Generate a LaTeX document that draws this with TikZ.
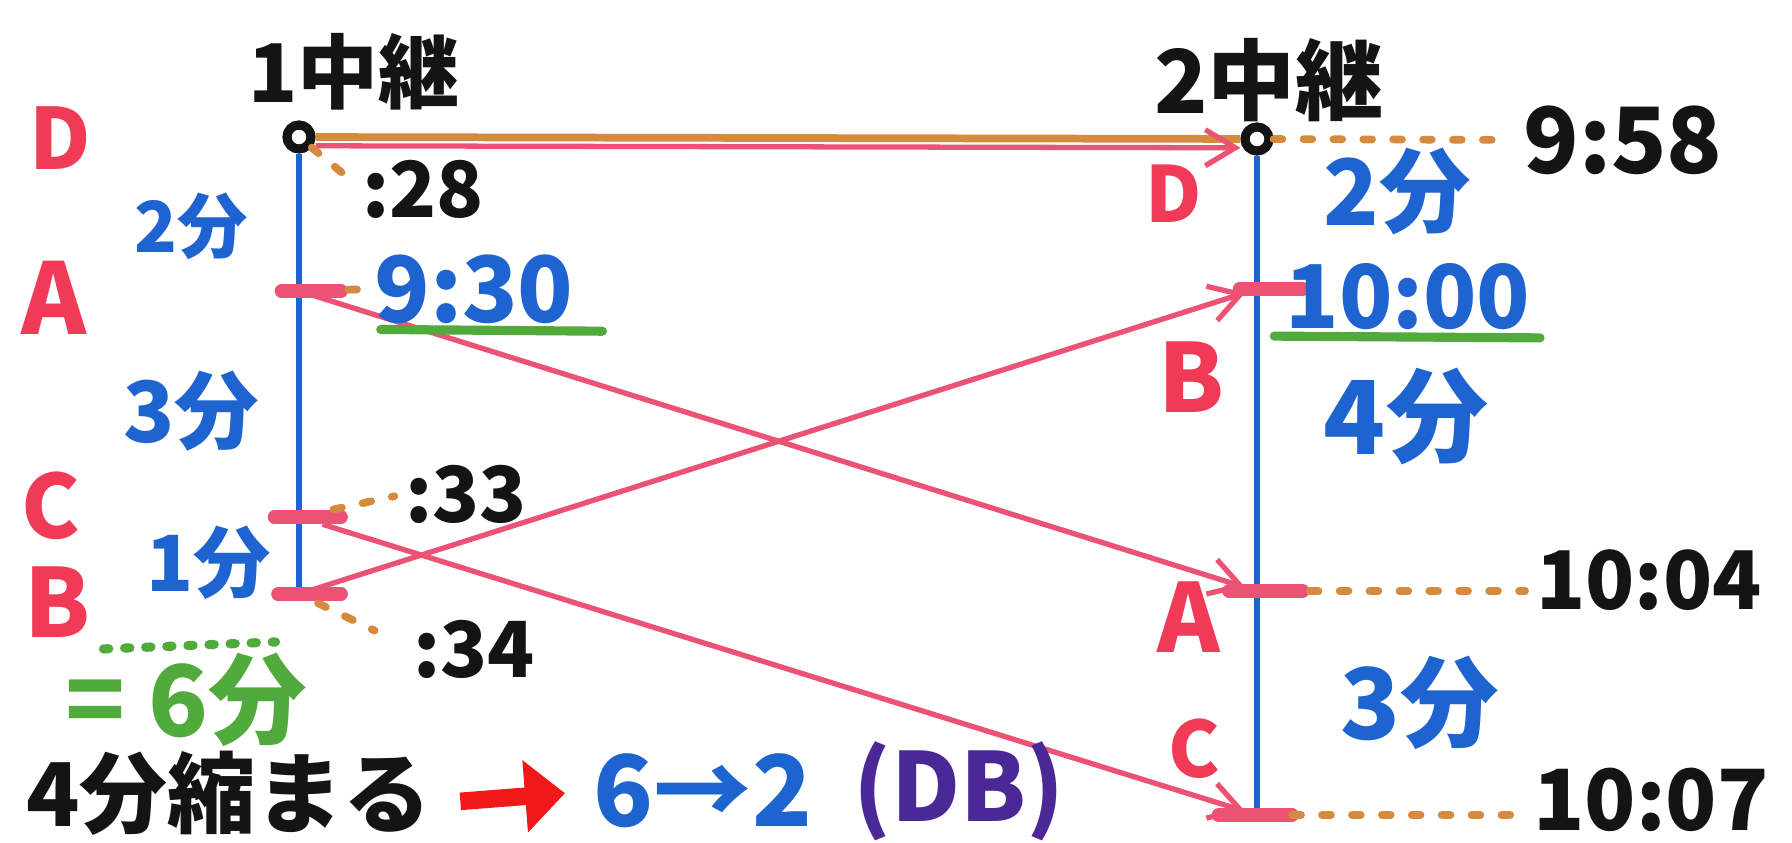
\documentclass[tikz,border=0pt]{standalone}
\usepackage{fontspec}
\setmainfont{Noto Sans CJK JP}
\usetikzlibrary{arrows.meta,positioning}

\definecolor{penpink}{RGB}{236,82,116}
\definecolor{penred}{RGB}{240,58,86}
\definecolor{penblue}{RGB}{30,100,208}
\definecolor{penorange}{RGB}{214,138,62}
\definecolor{pengreen}{RGB}{80,170,60}
\definecolor{penpurple}{RGB}{74,40,150}
\definecolor{penarrow}{RGB}{240,24,24}
\definecolor{penblack}{RGB}{20,20,20}

\begin{document}
\begin{tikzpicture}[
    x=0.01cm, y=-0.01cm,
    stn/.style={circle, draw=penblack, line width=2.6pt, inner sep=0pt, minimum size=0.24cm},
    track/.style={penblue, line width=1.8pt},
    run/.style={penorange, line width=2.2pt},
    pass/.style={penpink, line width=1.5pt, -{Straight Barb[length=3mm,width=3.6mm,line width=1.5pt]}},
    stamp/.style={penpink, line width=3.8pt, line cap=round},
    dotrun/.style={penorange, line width=2.2pt, line cap=round, dash pattern=on 2.5pt off 6pt},
    under/.style={pengreen, line width=2.6pt, line cap=round},
    runner/.style={text=penred, inner sep=0pt, font=\bfseries\fontsize{#1}{#1}\selectfont},
    dur/.style={text=penblue, inner sep=0pt, font=\bfseries\fontsize{#1}{#1}\selectfont},
    clock/.style={text=penblack, inner sep=0pt, font=\bfseries\fontsize{#1}{#1}\selectfont},
    bigarr/.style={penarrow, line width=5pt, -{Triangle[length=4mm,width=7mm]}}
  ]
  \useasboundingbox (0,0) rectangle (1792,843);

  % Relay stations and tracks
  \node[stn] (s1) at (299,137) {};
  \node[stn] (s2) at (1257,139) {};
  \node[clock=23] (st1) at (354,72) {1中継};
  \node[clock=25] (st2) at (1269,80) {2中継};

  \coordinate (lA) at (299,291);
  \coordinate (lC) at (299,517);
  \coordinate (lB) at (299,594);
  \coordinate (rB) at (1257,289);
  \coordinate (rA) at (1257,591);
  \coordinate (rC) at (1257,815);

  \draw[track] (s1) -- (lB);
  \draw[track] (s2) -- (rC);
  \draw[run] (s1) -- (s2);

  % Hand-over marks
  \draw[stamp] ([xshift=-5pt]lA) -- ([xshift=12pt]lA);
  \draw[stamp] ([xshift=-7pt]lC) -- ([xshift=12pt]lC);
  \draw[stamp] ([xshift=-6pt]lB) -- ([xshift=12pt]lB);
  \draw[stamp] ([xshift=-5pt]rB) -- ([xshift=13pt]rB);
  \draw[stamp] ([xshift=-8pt]rA) -- ([xshift=13pt]rA);
  \draw[stamp] ([xshift=-11pt]rC) -- ([xshift=10pt]rC);

  % Runners
  \draw[pass] ([yshift=-2.5pt]s1.east) -- ([yshift=-2.5pt]s2.west);
  \draw[pass, shorten <=3pt, shorten >=3.5pt] (lA) -- (rA);
  \draw[pass, shorten <=3pt, shorten >=3.5pt] (lB) -- (rB);
  \draw[pass, shorten <=7pt, shorten >=3.5pt] (lC) -- (rC);

  \node[runner=24] (nD1) at (60,138) {D};
  \node[runner=28] (nA1) at (54,298) {A};
  \node[runner=25] (nC1) at (51,506) {C};
  \node[runner=27] (nB1) at (57,602) {B};
  \node[runner=22] (nD2) at (1174,194) {D};
  \node[runner=27] (nB2) at (1191,377) {B};
  \node[runner=27] (nA2) at (1189,617) {A};
  \node[runner=22] (nC2) at (1194,749) {C};

  % Leg durations
  \node[dur=20] (d1) at (191,226) {2分};
  \node[dur=24] (d2) at (191,411) {3分};
  \node[dur=22] (d3) at (209,563) {1分};
  \node[dur=26] (d4) at (1397,191) {2分};
  \node[dur=29] (d5) at (1406,417) {4分};
  \node[dur=28] (d6) at (1420,703) {3分};

  % Times
  \node[clock=22] (t28) at (423,189) {:28};
  \node[dur=26] (t930) at (474,289) {9:30};
  \node[clock=22] (t33) at (466,494) {:33};
  \node[clock=22] (t34) at (474,649) {:34};
  \node[clock=26] (t958) at (1623,140) {9:58};
  \node[dur=25] (t1000) at (1408,297) {10:00};
  \node[clock=23] (t1004) at (1649,580) {10:04};
  \node[clock=24] (t1007) at (1651,800) {10:07};

  \draw[dotrun, shorten >=3pt] (s1) -- (t28.west);
  \draw[dotrun, shorten <=14pt, shorten >=3pt] (lA) -- (t930.west);
  \draw[dotrun, shorten <=10pt, shorten >=3pt] (lC) -- (t33.west);
  \draw[dotrun, shorten <=6pt, shorten >=12pt] (lB) -- (t34.west);
  \draw[dotrun, shorten >=3pt] (s2) -- (t958.west);
  \draw[dotrun, shorten <=15pt, shorten >=3pt] (rA) -- (rA -| t1004.west);
  \draw[dotrun, shorten <=10pt, shorten >=4pt] (rC) -- (rC -| t1007.west);

  \draw[under] ([xshift=2pt,yshift=-1.5pt]t930.south west) -- ([xshift=8pt,yshift=-2pt]t930.south east);
  \draw[under] ([xshift=-3pt,yshift=-1.5pt]t1000.south west) -- ([xshift=2.5pt,yshift=-2pt]t1000.south east);

  % Total and summary
  \node[text=pengreen, inner sep=0pt, font=\bfseries\fontsize{28}{28}\selectfont] (sum) at (186,700) {= 6分};
  \draw[under, dash pattern=on 1.5pt off 4.5pt] ([xshift=11pt,yshift=1pt]sum.north west) -- ([xshift=-9pt,yshift=3pt]sum.north east);

  \node[clock=25] (shrink) at (229,793) {4分縮まる};
  \node[dur=28] (ratio) at (703,791) {6→2};
  \node[text=penpurple, inner sep=0pt, font=\bfseries\fontsize{27}{27}\selectfont, right=0.4cm of ratio] (pair) {(DB)};
  \draw[bigarr, shorten <=8pt, shorten >=8pt] ([yshift=-3pt]shrink.east) -- (ratio.west);

\end{tikzpicture}
\end{document}
